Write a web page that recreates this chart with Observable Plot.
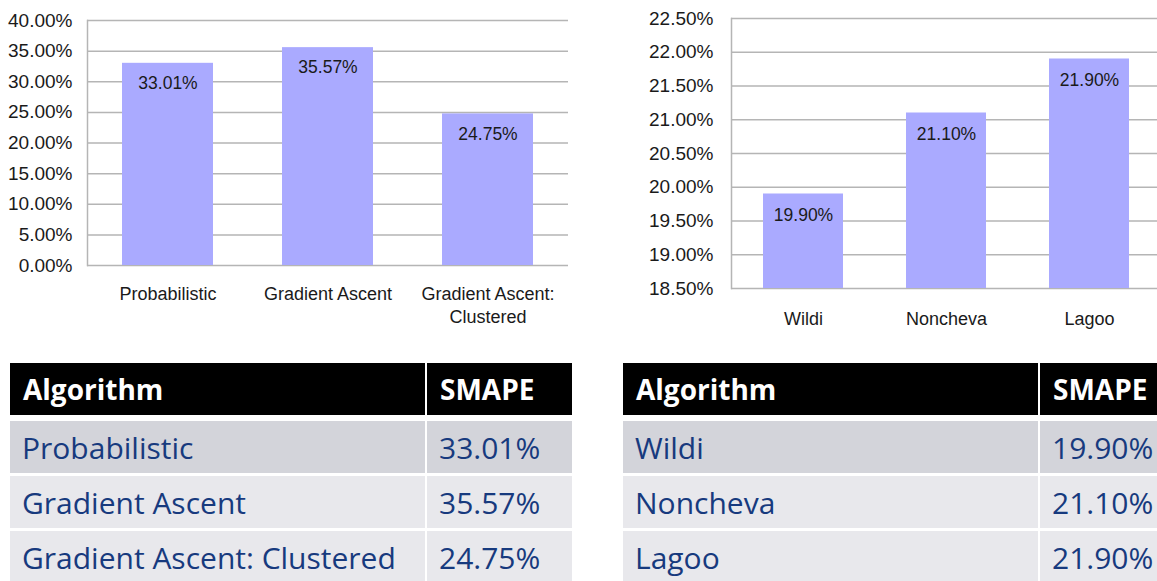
<!DOCTYPE html>
<html><head><meta charset="utf-8">
<script src="https://cdn.jsdelivr.net/npm/d3@7"></script>
<script src="https://cdn.jsdelivr.net/npm/@observablehq/plot@0.6"></script>
<style>
html,body{margin:0;padding:0;background:#fff;}
#root{position:relative;width:1157px;height:581px;overflow:hidden;}
.chart{position:absolute;top:0;}
.cell{position:absolute;box-sizing:border-box;display:flex;align-items:center;white-space:nowrap;overflow:hidden;font-family:"Open Sans",sans-serif;}
.hd{background:#000;color:#fff;font-weight:700;font-size:28px;padding-left:13px;}
.rw{color:#173a7e;font-size:30px;padding-left:12px;}
</style></head><body><div id="root"></div>
<script>
// ---- data ----
const leftCategories = ["Probabilistic", "Gradient Ascent", "Gradient Ascent: Clustered"];
const leftAxisLabels = ["Probabilistic", "Gradient Ascent", "Gradient Ascent:\nClustered"];
const leftValues = [0.3301, 0.3557, 0.2475];
const leftTicks = [0, 0.05, 0.10, 0.15, 0.20, 0.25, 0.30, 0.35, 0.40];

const rightCategories = ["Wildi", "Noncheva", "Lagoo"];
const rightValues = [0.1990, 0.2110, 0.2190];
const rightTicks = [0.185, 0.190, 0.195, 0.200, 0.205, 0.210, 0.215, 0.220, 0.225];

const tableHeaders = ["Algorithm", "SMAPE"];

// ---- charts ----
const fmt = d3.format(".2%");
const root = document.getElementById("root");
const chartFont = "'Liberation Sans', Arial, sans-serif";
const gridColor = "#b5b5b5";
const barColor = "#aaaaff";

const leftData = leftCategories.map((c, i) => ({name: c, value: leftValues[i]}));
const rightData = rightCategories.map((c, i) => ({name: c, value: rightValues[i]}));

const left = Plot.plot({
  width: 580, height: 340,
  marginLeft: 87, marginRight: 12, marginTop: 20, marginBottom: 75,
  style: {fontFamily: chartFont, fontSize: "17px", color: "#1a1a1a", background: "transparent"},
  x: {domain: leftCategories, paddingInner: 0.43, paddingOuter: 0.2135, align: 0.5, label: null},
  y: {domain: [0, 0.40], label: null},
  marks: [
    Plot.ruleY(leftTicks, {stroke: gridColor, strokeWidth: 1.5}),
    Plot.frame({anchor: "left", stroke: gridColor, strokeWidth: 1.5}),
    Plot.barY(leftData, {x: "name", y: "value", fill: barColor}),
    Plot.text(leftData, {x: "name", y: "value", text: d => fmt(d.value), dy: 20, fill: "#1a1a1a", fontSize: 17.5}),
    Plot.axisY({ticks: leftTicks, tickFormat: fmt, tickSize: 0, tickPadding: 15, fontSize: 19, label: null}),
    Plot.axisX({tickSize: 0, tickPadding: 18, fontSize: 18, lineHeight: 1.27, label: null,
      tickFormat: d => leftAxisLabels[leftCategories.indexOf(d)]})
  ]
});
left.classList.add("chart");
left.style.left = "0px";
root.appendChild(left);

const right = Plot.plot({
  width: 577, height: 340,
  marginLeft: 151, marginRight: 0, marginTop: 18, marginBottom: 52,
  style: {fontFamily: chartFont, fontSize: "17px", color: "#1a1a1a", background: "transparent"},
  x: {domain: rightCategories, paddingInner: 0.4375, paddingOuter: 0.198, align: 0.54, label: null},
  y: {domain: [rightTicks[0], rightTicks[rightTicks.length - 1]], label: null},
  marks: [
    Plot.ruleY(rightTicks, {stroke: gridColor, strokeWidth: 1.5}),
    Plot.frame({anchor: "left", stroke: gridColor, strokeWidth: 1.5}),
    Plot.barY(rightData, {x: "name", y1: rightTicks[0], y2: "value", fill: barColor}),
    Plot.text(rightData, {x: "name", y: "value", text: d => fmt(d.value), dy: 21, fill: "#1a1a1a", fontSize: 17.5}),
    Plot.axisY({ticks: rightTicks, tickFormat: fmt, tickSize: 0, tickPadding: 18, fontSize: 19, label: null}),
    Plot.axisX({tickSize: 0, tickPadding: 24, fontSize: 18, label: null})
  ]
});
right.classList.add("chart");
right.style.left = "580px";
root.appendChild(right);

// ---- tables ----
function drawTable(x0, names, values) {
  const colW = [415, 145];
  const colX = [x0, x0 + colW[0] + 2];
  const headTop = 363, headH = 52;
  const rowTops = [421, 476, 531], rowH = 52;
  const rowBg = ["#d3d4da", "#e8e8ec", "#e8e8ec"];
  function cell(cls, x, y, w, h, txt, bg) {
    const d = document.createElement("div");
    d.className = "cell " + cls;
    d.style.left = x + "px"; d.style.top = y + "px";
    d.style.width = w + "px"; d.style.height = h + "px";
    if (bg) d.style.background = bg;
    d.textContent = txt;
    root.appendChild(d);
  }
  tableHeaders.forEach((h, j) => cell("hd", colX[j], headTop, colW[j], headH, h));
  names.forEach((n, i) => {
    cell("rw", colX[0], rowTops[i], colW[0], rowH, n, rowBg[i]);
    cell("rw", colX[1], rowTops[i], colW[1], rowH, fmt(values[i]), rowBg[i]);
  });
}
drawTable(10, leftCategories, leftValues);
drawTable(623, rightCategories, rightValues);
</script>
</body></html>
